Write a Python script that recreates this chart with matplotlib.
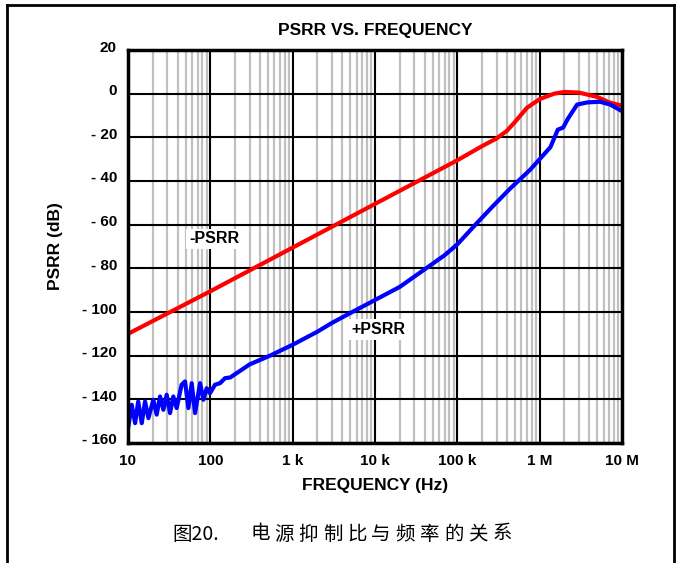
import numpy as np
import matplotlib
matplotlib.use("Agg")
import matplotlib.pyplot as plt
from matplotlib.lines import Line2D
from matplotlib.ticker import FixedLocator, NullFormatter
import matplotlib.transforms as mtransforms

# -PSRR (red)
neg_f = [10, 100, 1e3, 1e4, 1e5, 2e5, 3e5, 4e5, 5e5, 7e5, 1e6, 1.5e6, 2e6, 3e6, 5e6, 7e6, 1e7]
neg_db = [-110, -90.5, -70.5, -50.5, -30.5, -24, -20.5, -17, -13, -6.5, -2.5, 0, 0.8, 0.5, -1.5, -4, -5.5]

# +PSRR (blue), noisy below ~100 Hz
pos_f = [10.1, 11.1, 12.2, 13.3, 14.7, 16.1, 17.7, 20.3, 22.3, 24.5, 26.9, 29.5, 32.4, 35.5,
         39, 44.8, 49.3, 54.1, 59.4, 65.2, 75, 82.3, 90.3, 99, 114, 131, 151, 174, 209,
         300, 530, 1e3, 2e3, 3e3, 5e3, 1e4, 2e4, 4e4, 7e4, 1e5, 1.66e5, 2.63e5, 4.37e5,
         7.6e5, 1e6, 1.35e6, 1.66e6, 1.93e6, 2.2e6, 2.85e6, 3.8e6, 5.4e6, 7.2e6, 1e7]
pos_db = [-152.4, -142.5, -150.9, -141, -150.9, -141, -148.6, -140.2, -147, -138.7, -144.8, -137.9,
          -146.3, -138.7, -144, -133.3, -131.8, -144, -132.6, -146.3, -132.6, -140.2, -134.9,
          -137.2, -133.3, -132.6, -130.3, -130, -128, -124, -120, -115, -109, -105, -100.5,
          -94.5, -88.5, -80.5, -74, -69, -60, -52, -43.5, -35, -30, -24.5, -16.5, -15.5,
          -11.5, -5, -4, -3.7, -5, -8]

x_ticks = [10, 100, 1e3, 1e4, 1e5, 1e6, 1e7]
x_labels = ["10", "100", "1 k", "10 k", "100 k", "1 M", "10 M"]
y_ticks = [20, 0, -20, -40, -60, -80, -100, -120, -140, -160]
y_labels = ["20", "0", "- 20", "- 40", "- 60", "- 80", "- 100", "- 120", "- 140", "- 160"]

caption_num = "图20."
caption_text = "电源抑制比与频率的关系"

narrow = ["Liberation Sans", "DejaVu Sans"]
cjk = ["Noto Sans CJK SC", "DejaVu Sans"]

fig = plt.figure(figsize=(6.8, 5.63), dpi=100)
ax = fig.add_axes([128/680, 1 - 443/563, (622-128)/680, (443-50)/563])

ax.set_xscale("log")
ax.set_xlim(10, 1e7)
ax.set_ylim(-160, 20)

# grid
minor = [m * 10**e for e in range(1, 7) for m in range(2, 10)]
ax.xaxis.set_minor_locator(FixedLocator(minor))
ax.xaxis.set_minor_formatter(NullFormatter())
ax.set_xticks(x_ticks)
ax.set_xticklabels(x_labels)
ax.set_yticks(y_ticks)
ax.set_yticklabels(y_labels)
ax.grid(which="minor", axis="x", color="#c0c0c0", lw=1.6)
ax.grid(which="major", axis="both", color="black", lw=1.5)
ax.set_axisbelow(True)
ax.tick_params(which="both", length=0, pad=8)
for lab in ax.get_xticklabels() + ax.get_yticklabels():
    lab.set_family(narrow)
    lab.set_fontweight("bold")
    lab.set_fontsize(11)
off = mtransforms.ScaledTranslation(0, 4/100, fig.dpi_scale_trans)
for lab in ax.get_yticklabels():
    lab.set_transform(lab.get_transform() + off)
for s in ax.spines.values():
    s.set_linewidth(2.5)

ax.plot(neg_f, neg_db, color="#ff0000", lw=3, solid_capstyle="round")
ax.plot(pos_f, pos_db, color="#0000ff", lw=3, solid_joinstyle="round")

ax.text(111, -66.5, "-PSRR", ha="center", va="center", family=narrow, fontweight="bold",
        fontsize=11.5, bbox=dict(facecolor="white", edgecolor="none", pad=2))
ax.text(11000, -108, "+PSRR", ha="center", va="center", family=narrow, fontweight="bold",
        fontsize=11.5, bbox=dict(facecolor="white", edgecolor="none", pad=2))

ax.set_title("PSRR VS. FREQUENCY", family=narrow, fontweight="bold", fontsize=12.5, pad=11)
ax.set_xlabel("FREQUENCY (Hz)", family=narrow, fontweight="bold", fontsize=12.5, labelpad=7)
ax.set_ylabel("PSRR (dB)", family=narrow, fontweight="bold", fontsize=12.5, labelpad=14)

# caption: figure number, then evenly spaced characters
cy = 1 - 534/563
fig.text(172/680, cy, caption_num, ha="left", va="center", family=cjk, fontsize=14,
         fontweight="light")
for i, ch in enumerate(caption_text):
    fig.text((260 + i*24.2)/680, cy, ch, ha="center", va="center", family=cjk,
             fontsize=14, fontweight="light")

# outer frame (open at the bottom)
x0, x1, y0 = 7/680, 674/680, 1 - 5/563
for xs, ys in [([x0, x0], [0, y0]), ([x0, x1], [y0, y0]), ([x1, x1], [y0, 0])]:
    fig.add_artist(Line2D(xs, ys, color="black", lw=2, transform=fig.transFigure))

fig.savefig("out.png", dpi=100)
